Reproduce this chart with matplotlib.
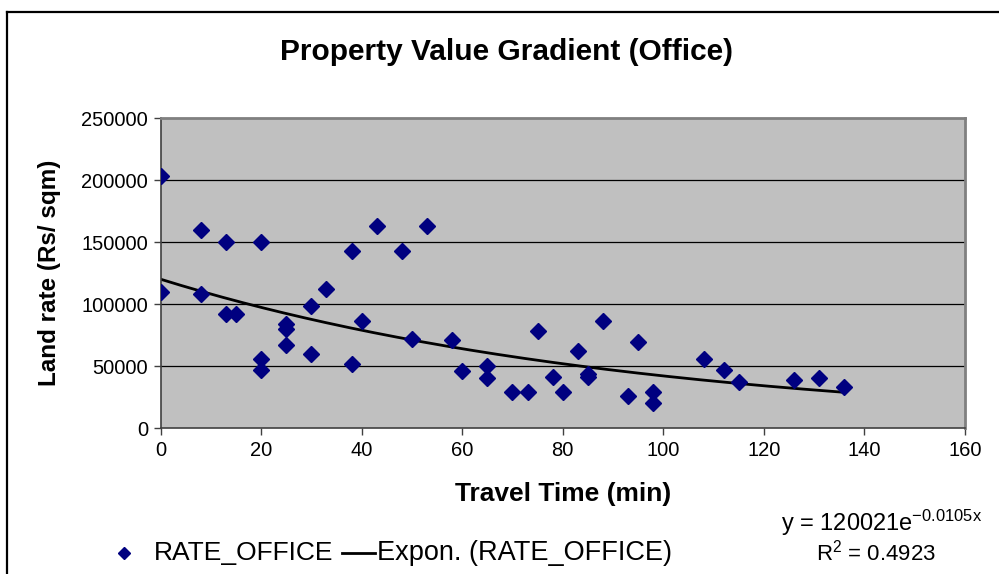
import matplotlib
matplotlib.use("Agg")
import matplotlib.pyplot as plt
import numpy as np
from matplotlib.lines import Line2D

plt.rcParams["font.family"] = ["Liberation Sans", "DejaVu Sans"]
plt.rcParams["mathtext.fontset"] = "custom"
plt.rcParams["mathtext.rm"] = "Liberation Sans"
plt.rcParams["mathtext.it"] = "Liberation Sans"

# travel time (min) and office land rate (Rs/sqm)
travel_time = [0, 0, 8, 8, 13, 13, 15, 20, 20, 20, 25, 25, 25, 30, 30, 33, 38, 38,
               40, 43, 48, 50, 53, 58, 60, 65, 65, 70, 73, 75, 78, 80, 83, 85, 85,
               88, 93, 95, 98, 98, 108, 112, 115, 126, 131, 136]
rate_office = [203000, 110000, 160000, 108000, 150000, 92000, 92000, 150000, 55500,
               47000, 83500, 79500, 67000, 98500, 60000, 112500, 143000, 51500,
               86000, 163000, 143000, 72000, 163000, 71000, 46000, 50000, 40000,
               29000, 29000, 78000, 41500, 29000, 62500, 43500, 41500, 86000, 26000,
               69500, 29000, 20500, 55500, 47000, 37500, 38500, 40500, 33000]

# exponential trendline as printed on the chart
fit_a = 120021
fit_b = -0.0105
fit_r2 = 0.4923

x_ticks = [0, 20, 40, 60, 80, 100, 120, 140, 160]
y_ticks = [0, 50000, 100000, 150000, 200000, 250000]

W, H = 999, 574


def fx(px):
    return px / W


def fy(py):
    return 1 - py / H


fig = plt.figure(figsize=(W / 100, H / 100), dpi=100)
ax = fig.add_axes([fx(160.5), fy(428), (965 - 160.5) / W, (428 - 118) / H])
ax.set_facecolor("#c0c0c0")

for yv in y_ticks[1:-1]:
    ax.axhline(yv, color="black", lw=0.9, zorder=1)

tx = np.linspace(0, max(travel_time), 200)
ax.plot(tx, fit_a * np.exp(fit_b * tx), color="black", lw=2.0, zorder=2)
ax.plot(travel_time, rate_office, "D", color="#000080", ms=8, mec="#000080", zorder=3)

ax.set_xlim(0, 160)
ax.set_ylim(0, 250000)
ax.set_xticks(x_ticks)
ax.set_yticks(y_ticks)
ax.tick_params(labelsize=14.5, direction="out", length=5, width=1, color="#404040", pad=4)
for side in ("left", "bottom"):
    ax.spines[side].set_color("#404040")
    ax.spines[side].set_linewidth(1.2)
for side in ("top", "right"):
    ax.spines[side].set_color("#808080")
    ax.spines[side].set_linewidth(2)

fig.text(fx(507), fy(52), "Property Value Gradient (Office)", ha="center",
         va="center", fontsize=21.5, fontweight="bold")
fig.text(fx(50), fy(273), "Land rate (Rs/ sqm)", ha="center", va="center",
         rotation=90, fontsize=17.5, fontweight="bold")
fig.text(fx(563), fy(494), "Travel Time (min)", ha="center", va="center",
         fontsize=19, fontweight="bold")

fig.text(fx(781), fy(523), r"y = 120021e$^{\mathrm{-0.0105x}}$", ha="left", va="center",
         fontsize=17)
fig.text(fx(876), fy(553), f"R$^2$ = {fit_r2}", ha="center", va="center",
         fontsize=16)

# legend, laid out like the spreadsheet one
fig.add_artist(Line2D([fx(124)], [fy(553)], ls="none", marker="D", color="#000080", ms=6.5,
                      transform=fig.transFigure))
fig.text(fx(154), fy(553), "RATE_OFFICE", ha="left", va="center", fontsize=19)
fig.add_artist(Line2D([fx(342), fx(375)], [fy(553), fy(553)], color="black", lw=2,
                      transform=fig.transFigure))
fig.text(fx(377), fy(553), "Expon. (RATE_OFFICE)", ha="left", va="center", fontsize=19.5)

# chart frame (only left and top edges are inside the crop)
fig.add_artist(Line2D([fx(6.5), fx(6.5)], [0, fy(11.5)], color="black", lw=1.6,
                      transform=fig.transFigure))
fig.add_artist(Line2D([fx(6.5), 1], [fy(11.5), fy(11.5)], color="black", lw=1.6,
                      transform=fig.transFigure))

fig.savefig("out.png", dpi=100)
